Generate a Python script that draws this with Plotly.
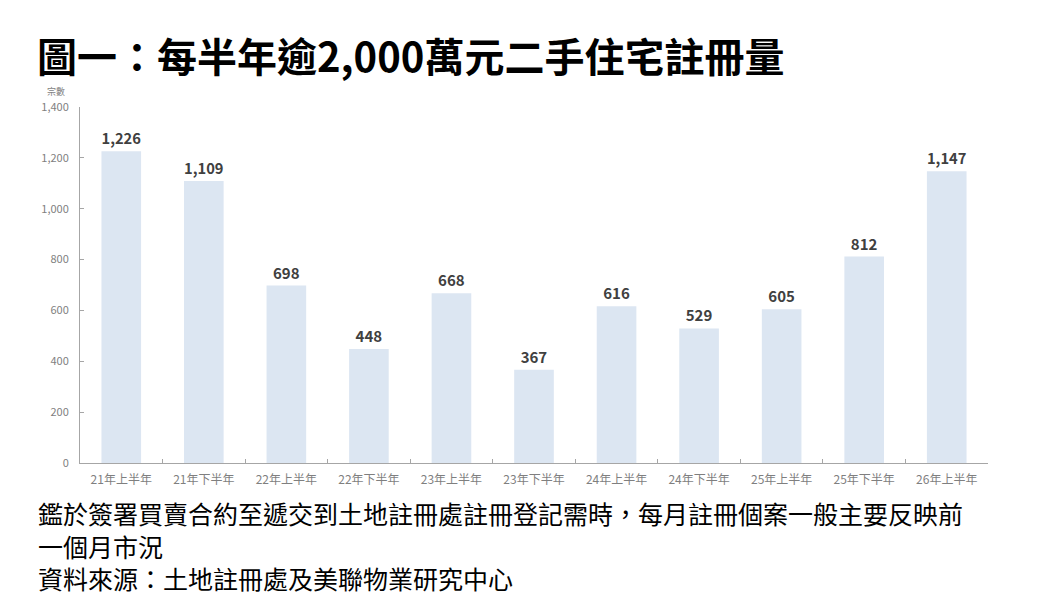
import plotly.graph_objects as go

categories = ["21年上半年", "21年下半年", "22年上半年", "22年下半年", "23年上半年", "23年下半年",
              "24年上半年", "24年下半年", "25年上半年", "25年下半年", "26年上半年"]
values = [1226, 1109, 698, 448, 668, 367, 616, 529, 605, 812, 1147]
y_ticks = [0, 200, 400, 600, 800, 1000, 1200, 1400]

title_text = "圖一：每半年逾2,000萬元二手住宅註冊量"
note_lines = ["鑑於簽署買賣合約至遞交到土地註冊處註冊登記需時，每月註冊個案一般主要反映前",
              "一個月市況",
              "資料來源：土地註冊處及美聯物業研究中心"]

FONT = "Noto Sans CJK TC"

fig = go.Figure(go.Bar(
    x=categories, y=values,
    marker=dict(color="#dce6f2", line=dict(width=0)),
    width=0.48,
    text=[f"{v:,}" for v in values],
    textposition="outside",
    textfont=dict(family=FONT, size=15, color="#404040", weight=600),
    cliponaxis=False,
))

fig.update_layout(
    width=1057, height=606,
    margin=dict(l=80, r=69, t=107, b=143),
    paper_bgcolor="white", plot_bgcolor="white",
    showlegend=False,
    font=dict(family=FONT),
)
fig.update_yaxes(
    range=[0, 1400], tickvals=y_ticks, ticktext=[f"{v:,}" for v in y_ticks],
    showgrid=False, zeroline=False, showline=True, linecolor="#a6a6a6", linewidth=1,
    ticks="inside", ticklen=4, tickcolor="#a6a6a6",
    tickfont=dict(family=FONT, size=11, color="#7f7f7f"), ticklabelstandoff=8,
)
fig.update_xaxes(
    showgrid=False, showline=True, linecolor="#a6a6a6", linewidth=1,
    tickfont=dict(family=FONT, size=12, color="#7f7f7f"),
    tickson="boundaries", ticks="inside", ticklen=4, tickcolor="#a6a6a6",
    ticklabelstandoff=6,
)

annotations = [
    dict(text=title_text, xref="paper", yref="paper", x=-80/908, y=1 + 52/356,
         xanchor="left", yanchor="middle", showarrow=False,
         font=dict(family=FONT, size=40, color="#000000", weight="bold"), xshift=35),
    dict(text="宗數", xref="paper", yref="paper", x=0, y=1, xshift=-13, yshift=16,
         xanchor="right", yanchor="middle", showarrow=False,
         font=dict(family=FONT, size=9, color="#7f7f7f")),
    dict(text="<br>".join(note_lines), xref="paper", yref="paper", x=-80/908, xshift=36,
         y=(463 - 545) / 356, xanchor="left", yanchor="middle", align="left",
         showarrow=False, font=dict(family=FONT, size=25, color="#000000")),
]
fig.update_layout(annotations=annotations)

fig.write_html("out.html")
